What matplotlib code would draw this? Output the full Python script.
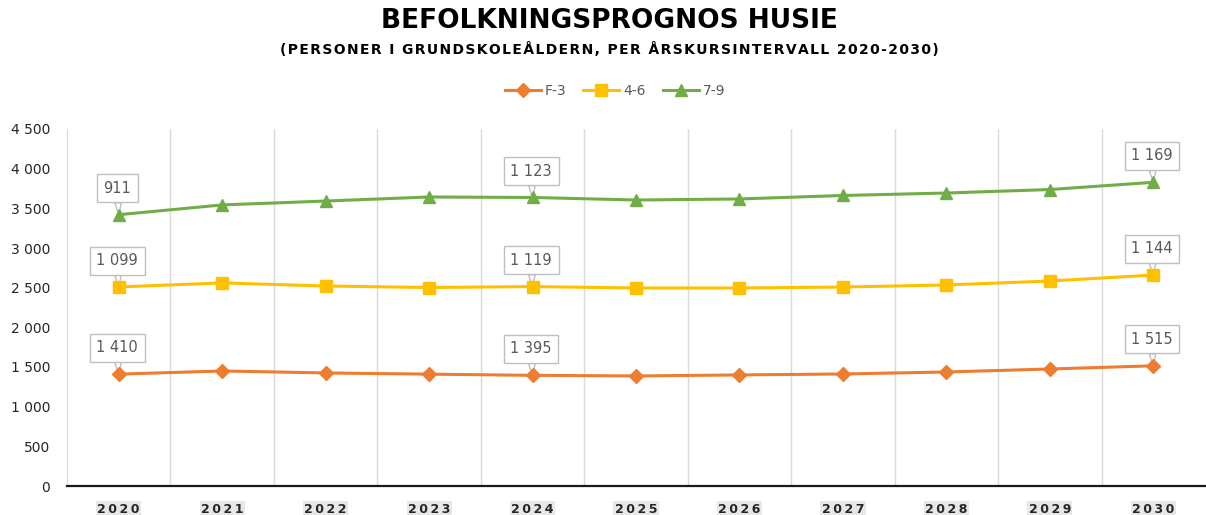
import numpy as np
import matplotlib
matplotlib.use("Agg")
import matplotlib.pyplot as plt
from matplotlib.ticker import FuncFormatter, MultipleLocator

years = [2020, 2021, 2022, 2023, 2024, 2025, 2026, 2027, 2028, 2029, 2030]
series_names = ["F-3", "4-6", "7-9"]
# värden per årskursintervall (staplade linjer, etiketter visar egna värden)
f3 = [1410, 1450, 1425, 1410, 1395, 1387, 1400, 1412, 1437, 1475, 1515]
g46 = [1099, 1110, 1096, 1092, 1119, 1109, 1096, 1096, 1097, 1109, 1144]
g79 = [911, 983, 1071, 1141, 1123, 1109, 1122, 1154, 1159, 1153, 1169]
label_years = [2020, 2024, 2030]

colors = ["#ED7D31", "#FFC000", "#70AD47"]
markers = ["D", "s", "^"]
msizes = [7, 8.5, 9]

fmt = lambda v: f"{int(round(v)):,}".replace(",", " ")

fig = plt.figure(figsize=(12.06, 5.15), dpi=100)
ax = fig.add_axes([67 / 1206, 1 - 486 / 515, 1 - 68 / 1206, (486 - 129) / 515])

x = np.arange(len(years))
raw = [np.array(f3), np.array(g46), np.array(g79)]
stacked = np.cumsum(raw, axis=0)

for i in range(3):
    ax.plot(x, stacked[i], color=colors[i], lw=2.2, marker=markers[i],
            ms=msizes[i], label=series_names[i], zorder=3)
    for yr in label_years:
        j = years.index(yr)
        ax.annotate(fmt(raw[i][j]), xy=(x[j], stacked[i][j]), xytext=(-1, 19),
                    textcoords="offset points", ha="center", va="center",
                    fontsize=10.5, color="#595959", zorder=2,
                    bbox=dict(boxstyle="square,pad=0.45", fc="white", ec="#bfbfbf", lw=1),
                    arrowprops=dict(arrowstyle="wedge,tail_width=0.45,shrink_factor=0.5",
                                    fc="white", ec="#bfbfbf", lw=1,
                                    shrinkA=0, shrinkB=0))

ax.set_xlim(-0.5, len(years) - 0.5)
ax.set_ylim(0, 4500)
ax.yaxis.set_major_locator(MultipleLocator(500))
ax.yaxis.set_major_formatter(FuncFormatter(lambda v, p: fmt(v)))
ax.set_xticks(x)
ax.set_xticklabels(["\u2009".join(str(y)) for y in years], fontweight="bold",
                   fontsize=9, color="#262626")
for t in ax.get_xticklabels():
    t.set_bbox(dict(fc="#e7e7e7", ec="none", pad=1))
ax.set_xticks(np.arange(len(years) - 1) + 0.5, minor=True)
ax.grid(which="minor", axis="x", color="#d9d9d9", lw=1)
ax.tick_params(axis="y", length=0, pad=12, labelsize=10, labelcolor="#262626")
ax.tick_params(axis="x", which="both", length=0, pad=12)

for s in ["top", "right"]:
    ax.spines[s].set_visible(False)
ax.spines["left"].set_color("#d9d9d9")
ax.spines["bottom"].set_color("#1a1a1a")
ax.spines["bottom"].set_linewidth(1.6)
ax.spines["bottom"].set_zorder(4)

fig.text(0.505, 1 - 21 / 515, "BEFOLKNINGSPROGNOS HUSIE", ha="center", va="center",
         fontsize=19, fontweight="bold",
         family=["Liberation Sans Narrow", "DejaVu Sans Condensed", "DejaVu Sans"])
subtitle = "(PERSONER I GRUNDSKOLEÅLDERN, PER ÅRSKURSINTERVALL 2020-2030)"
fig.text(0.505, 1 - 49 / 515, "\u200a".join(subtitle),
         ha="center", va="center", fontsize=10, fontweight="bold")

leg = fig.legend(loc="center", bbox_to_anchor=(0.51, 1 - 91 / 515), ncol=3, frameon=False,
                 fontsize=10, handlelength=2.6, columnspacing=1.2, handletextpad=0.3)
for t in leg.get_texts():
    t.set_color("#595959")

fig.savefig("out.png", dpi=100)
